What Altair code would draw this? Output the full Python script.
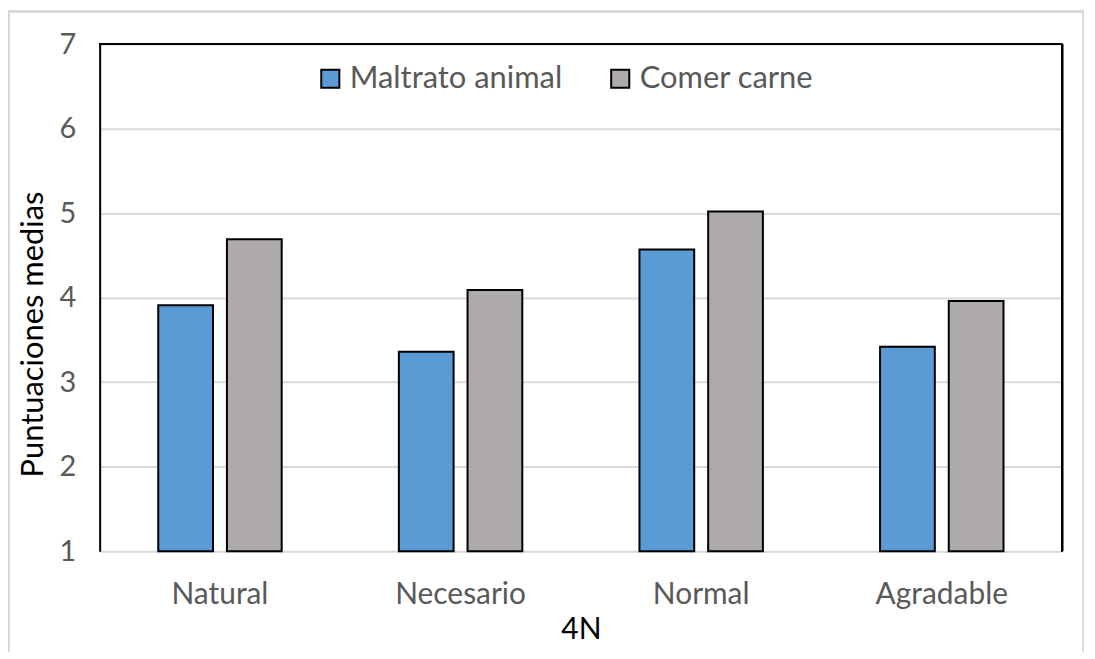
import altair as alt
import pandas as pd

categories = ["Natural", "Necesario", "Normal", "Agradable"]
series = ["Maltrato animal", "Comer carne"]
maltrato = [3.91, 3.36, 4.57, 3.42]
comer = [4.69, 4.09, 5.02, 3.96]
colors = ["#5b9bd5", "#aeaaaa"]

rows = []
for i, c in enumerate(categories):
    rows.append({"cat": c, "serie": series[0], "valor": maltrato[i], "base": 1})
    rows.append({"cat": c, "serie": series[1], "valor": comer[i], "base": 1})
df = pd.DataFrame(rows)

W, H = 966, 509
FONT = "Lato"

bars = alt.Chart(df).mark_bar(stroke="black", strokeWidth=2).encode(
    x=alt.X("cat:N", sort=categories,
            scale=alt.Scale(paddingInner=0.487, paddingOuter=0.2435),
            axis=alt.Axis(title="4N", labelAngle=0, ticks=False, domain=False,
                          labelFont=FONT, labelFontSize=30, labelColor="#595959",
                          labelPadding=29, titleFont=FONT, titleFontSize=30,
                          titleFontWeight="normal", titleColor="#000000",
                          titlePadding=5)),
    xOffset=alt.XOffset("serie:N", sort=series,
                        scale=alt.Scale(paddingInner=0.203, paddingOuter=0)),
    y=alt.Y("valor:Q", scale=alt.Scale(domain=[1, 7], nice=False, zero=False),
            axis=alt.Axis(title="Puntuaciones medias", values=[1, 2, 3, 4, 5, 6, 7],
                          format="d",
                          ticks=False, domain=True, domainColor="black", domainWidth=2,
                          grid=True, gridColor="#d9d9d9", gridWidth=2,
                          labelFont=FONT, labelFontSize=29, labelColor="#595959",
                          labelPadding=24, titleFont=FONT, titleFontSize=31,
                          titleFontWeight="normal", titleColor="#000000",
                          titlePadding=10, titleY=291)),
    y2=alt.Y2("base:Q"),
    color=alt.Color("serie:N", sort=series,
                    scale=alt.Scale(domain=series, range=colors),
                    legend=alt.Legend(title=None, orient="none", direction="horizontal",
                                      legendX=216, legendY=19,
                                      symbolType="square", symbolSize=330,
                                      symbolStrokeColor="black", symbolStrokeWidth=2,
                                      labelFont=FONT, labelFontSize=31, labelColor="#595959",
                                      labelLimit=400,
                                      labelOffset=4, columnPadding=42)),
)

top_rule = alt.Chart(df).mark_rule(color="black", strokeWidth=2).encode(
    y=alt.datum(7)
)
right_rule = alt.Chart(df).mark_rule(color="black", strokeWidth=2).encode(
    x=alt.value(W), y=alt.value(0), y2=alt.value(H)
)
frame = alt.Chart(df).mark_rect(fill=None, stroke="#d9d9d9", strokeWidth=2).encode(
    x=alt.value(-91), x2=alt.value(W + 21), y=alt.value(-33), y2=alt.value(H + 103)
)

chart = alt.layer(frame, bars, top_rule, right_rule).properties(
    width=W, height=H,
    autosize=alt.AutoSizeParams(type="none"),
    padding={"left": 92, "top": 35, "right": 25, "bottom": 100},
).configure_view(stroke=None).configure(background="white")

chart.save("out.html", embed_options={"renderer": "svg", "actions": False})
